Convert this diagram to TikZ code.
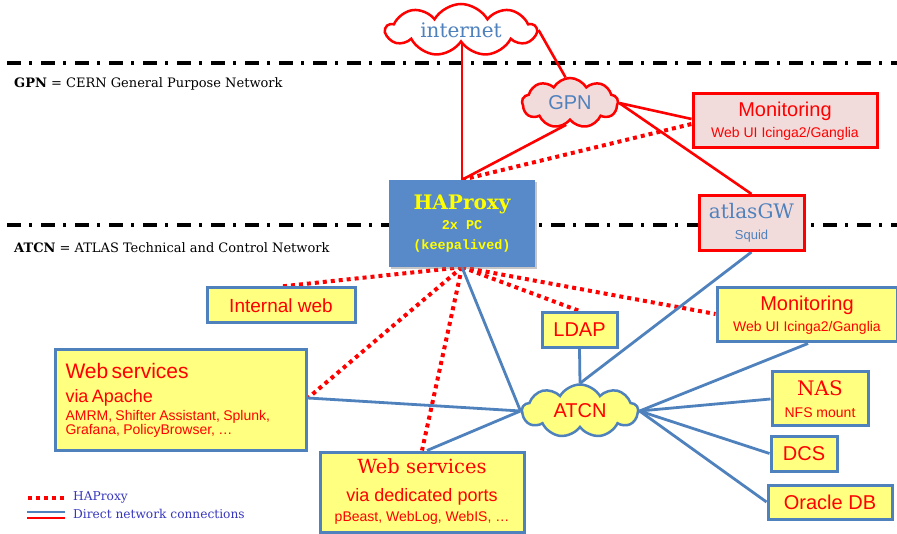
\documentclass[tikz,border=0pt]{standalone}
\usepackage{fontspec}
\setmainfont{DejaVu Serif}
\setsansfont{Liberation Sans}
\setmonofont{Liberation Mono}
\usetikzlibrary{shapes.symbols,shadows,calc}
\definecolor{ored}{RGB}{255,0,0}
\definecolor{oblue}{RGB}{79,129,189}
\definecolor{oyel}{RGB}{255,255,128}
\definecolor{opink}{RGB}{242,220,219}
\definecolor{hapblue}{RGB}{88,137,200}
\definecolor{hapyel}{RGB}{255,255,0}
\definecolor{legblue}{RGB}{55,55,190}
\newcommand\fsz[2]{\fontsize{#1}{#2}\selectfont}
\pgfdeclarelayer{bg}
\pgfsetlayers{bg,main}
\tikzset{
  ybox/.style={draw=oblue, fill=oyel, line width=3pt, inner sep=0pt, align=center, text=ored},
  pbox/.style={draw=ored, fill=opink, line width=3pt, inner sep=0pt, align=center},
  cloudn/.style={cloud, cloud puffs=9, cloud puff arc=120, cloud ignores aspect, draw, line width=2.5pt, inner sep=0pt},
  redline/.style={draw=ored, line width=2.6pt},
  reddot/.style={draw=ored, line width=4pt, dash pattern=on 4pt off 4pt},
  blueline/.style={draw=oblue, line width=2.8pt},
  netline/.style={draw=black, line width=3.5pt, dash pattern=on 14pt off 8pt on 3pt off 9pt},
  legtext/.style={anchor=west, inner sep=0pt},
}
\begin{document}
\begin{tikzpicture}[x=1pt,y=-1pt]
\useasboundingbox (0,0) rectangle (897,534);

% nodes
\node[cloudn, draw=ored, fill=white, text=oblue, minimum width=150, minimum height=52, font=\fsz{20}{24}] (internet) at (461,30) {internet};
\node[cloudn, draw=ored, fill=opink, text=oblue, minimum width=96, minimum height=50, font=\sffamily\fsz{20}{24}] (gpn) at (570,103) {GPN};
\node[pbox, minimum width=184, minimum height=54, text=ored, font=\sffamily\fsz{14}{21}] (mon1) at (785,121) {\fsz{20}{24}Monitoring\\Web UI Icinga2/Ganglia};
\node[draw=none, fill=hapblue, inner sep=0pt, minimum width=146, minimum height=87, align=center, text=hapyel, font=\fsz{13.5}{20}, drop shadow={opacity=0.45, shadow xshift=2pt, shadow yshift=-2pt}] (hap) at (462,223.5) {\fsz{20}{20}\bfseries HAProxy\\\ttfamily\bfseries 2x PC\\\ttfamily\bfseries (keepalived)};
\node[pbox, minimum width=105, minimum height=55, text=oblue, font=\sffamily\fsz{13}{21}] (gw) at (751.5,223) {\rmfamily\fsz{20}{22}atlasGW\\Squid};

\node[ybox, minimum width=148, minimum height=35, font=\sffamily\fsz{19}{22}] (iweb) at (281,305.5) {Internal web};
\node[ybox, minimum width=75, minimum height=35, font=\sffamily\fsz{20}{24}] (ldap) at (579.5,330) {LDAP};
\node[ybox, minimum width=180, minimum height=54, font=\sffamily\fsz{14}{21}] (mon2) at (807,315) {\fsz{20}{24}Monitoring\\Web UI Icinga2/Ganglia};
\node[ybox, minimum width=251, minimum height=100, text width=231, align=left, font=\sffamily] (apache) at (181,400) {\fsz{21}{17}Web services\\[7pt]\fsz{18}{17}via Apache\\[1pt]\fsz{14}{17}AMRM, Shifter Assistant, Splunk,\\Grafana, PolicyBrowser, …};
\node[cloudn, draw=oblue, fill=oyel, text=ored, minimum width=116, minimum height=53, font=\sffamily\fsz{20}{24}] (atcn) at (580,411) {ATCN};
\node[ybox, minimum width=96, minimum height=54, font=\sffamily\fsz{14}{22}] (nas) at (820,399) {\rmfamily\fsz{20}{22}NAS\\NFS mount};
\node[ybox, minimum width=66, minimum height=35, font=\sffamily\fsz{20}{24}] (dcs) at (804,453.5) {DCS};
\node[ybox, minimum width=124, minimum height=34, font=\sffamily\fsz{20}{24}] (ora) at (830,502) {Oracle DB};
\node[ybox, minimum width=204, minimum height=80, font=\sffamily\fsz{14}{20}] (ded) at (422,492) {\rmfamily\fsz{19.5}{22}Web services\\[8pt]\fsz{18}{22}via dedicated ports\\pBeast, WebLog, WebIS, …};

% legend texts
\node[legtext, font=\fsz{13}{15}] (gpntxt) at (14,84) {\textbf{GPN} = CERN General Purpose Network};
\node[legtext, font=\fsz{13}{15}] (atcntxt) at (14,248) {\textbf{ATCN} = ATLAS Technical and Control Network};
\node[legtext, text=legblue, font=\fsz{12.2}{15}] (lhap) at (73,497) {HAProxy};
\node[legtext, text=legblue, font=\fsz{12.2}{15}] (ldir) at (73,514) {Direct network connections};
\coordinate (l1a) at (28,497.5);
\coordinate (l1b) at (65,497.5);
\coordinate (l2a) at (27,512);
\coordinate (l2b) at (65,512);
\coordinate (l3a) at (27,518);
\coordinate (l3b) at (65,518);
\coordinate (n1a) at (7,63);
\coordinate (n1b) at (897,63);
\coordinate (n2a) at (7,225);
\coordinate (n2b) at (897,225);

\begin{pgfonlayer}{bg}
\draw[netline] (n1a) -- (n1b);
\draw[netline] (n2a) -- (n2b);
% red solid
\draw[redline] (internet.south -| hap.north) -- (hap.north);
\draw[redline] (internet.east) -- (gpn.100);
\draw[redline] (gpn.-100) -- (hap.north);
\draw[redline] (gpn.east) -- ($(mon1.west)+(0,-2)$);
\draw[redline] (gpn.east) -- (gw.north);
% red dotted
\draw[reddot] (hap.north) -- ($(mon1.west)+(0,3)$);
\draw[reddot] (hap.south) -- (iweb.north);
\draw[reddot] (hap.south) -- ($(apache.east)+(0,-2)$);
\draw[reddot] (hap.south) -- (ded.north);
\draw[reddot] (hap.south) -- (ldap.north);
\draw[reddot] (hap.south) -- ($(mon2.west)+(0,-1)$);
% blue
\draw[blueline] (hap.south) -- (atcn.west);
\draw[blueline] ($(apache.east)+(0,-2)$) -- (atcn.west);
\draw[blueline] ($(ded.north)+(5,0)$) -- (atcn.west);
\draw[blueline] (ldap.south) -- (atcn.north);
\draw[blueline] (gw.south) -- (atcn.north);
\draw[blueline] ($(mon2.south)+(1,0)$) -- (atcn.east);
\draw[blueline] (nas.west) -- (atcn.east);
\draw[blueline] (dcs.west) -- (atcn.east);
\draw[blueline] (ora.west) -- (atcn.east);
% legend lines
\draw[reddot] (l1a) -- (l1b);
\draw[blueline] (l2a) -- (l2b);
\draw[redline] (l3a) -- (l3b);
\end{pgfonlayer}
\end{tikzpicture}
\end{document}
